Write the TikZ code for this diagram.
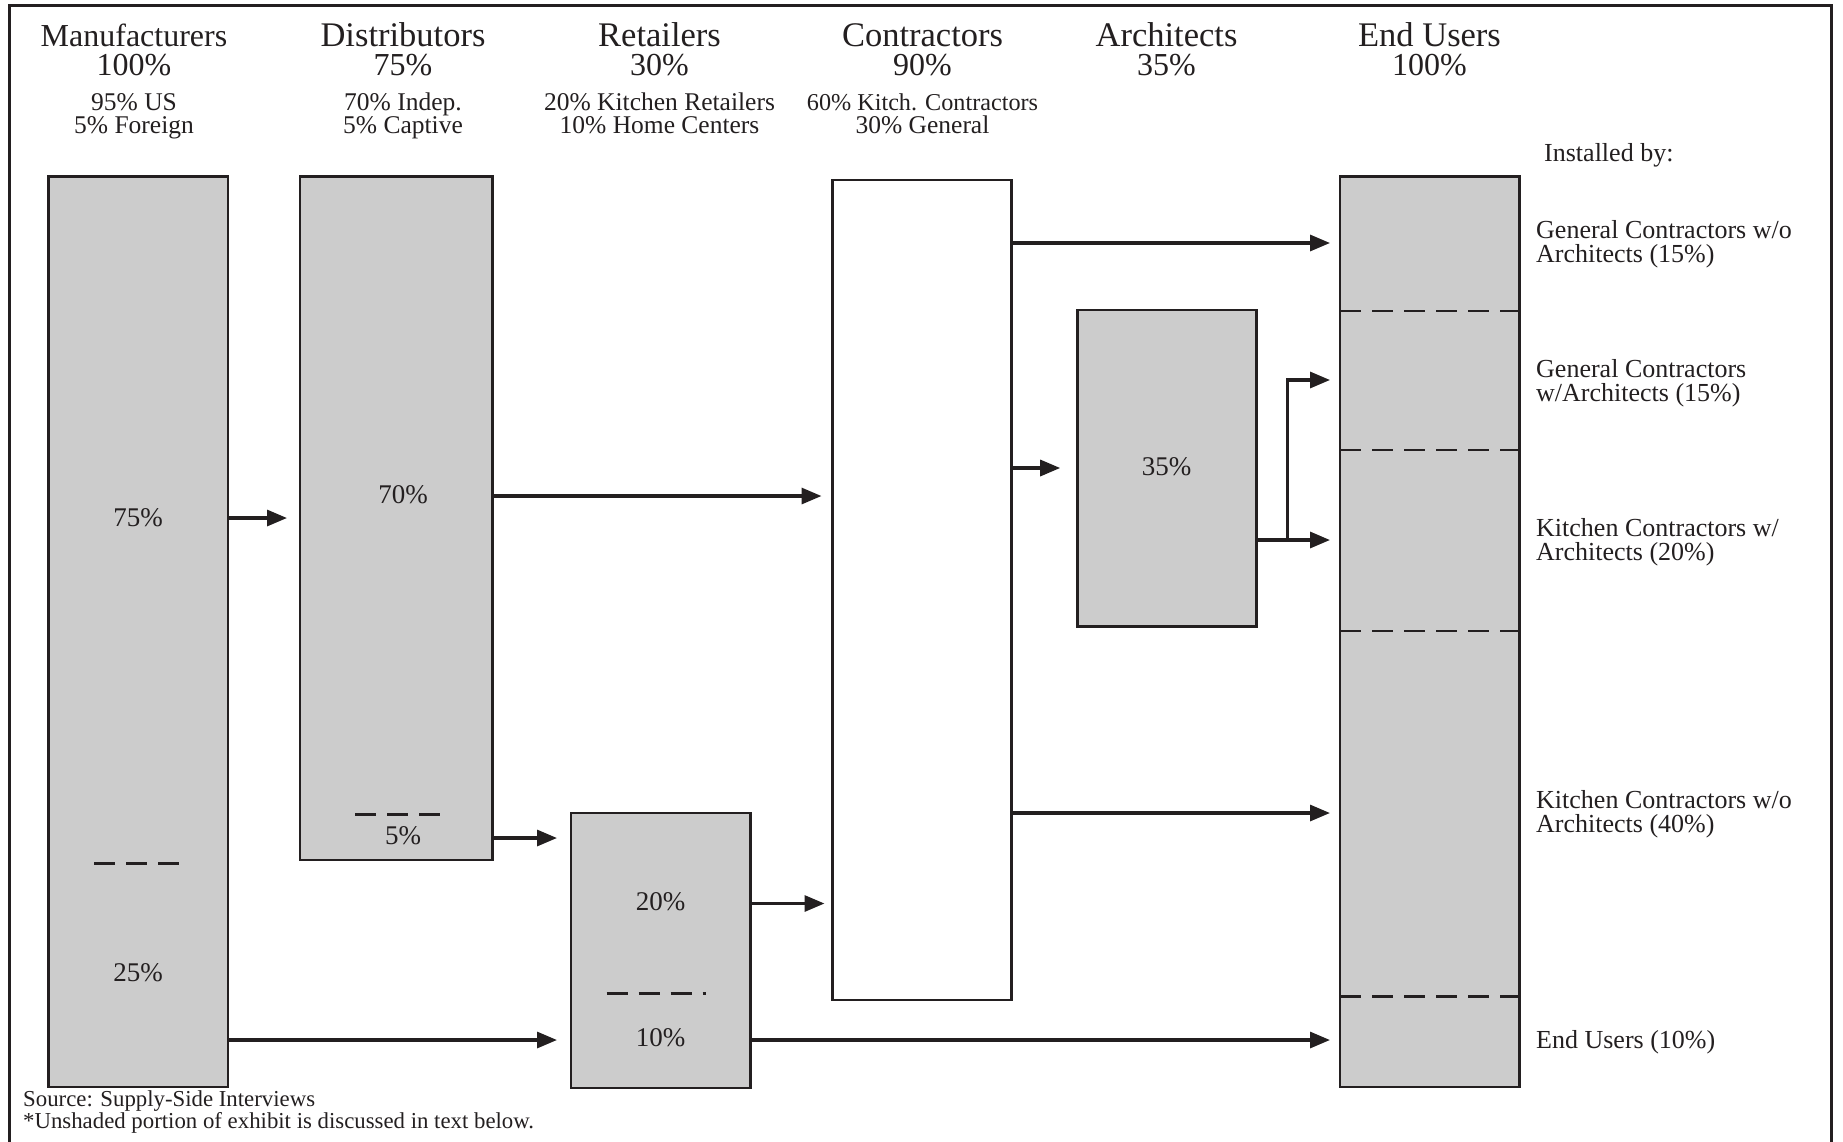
\documentclass[tikz,border=0pt]{standalone}
\usepackage{fontspec}
\setmainfont{Liberation Serif}
\usetikzlibrary{arrows.meta}
\definecolor{ink}{HTML}{231F20}
\definecolor{shade}{HTML}{CCCCCC}
\newcommand{\pcfont}{\fontsize{32}{28.3}\selectfont}
\begin{document}
\begin{tikzpicture}[x=1pt,y=-1pt,
  box/.style={draw=ink, line width=2.5pt, fill=shade, anchor=north west, inner sep=0pt, outer sep=0pt},
  openbox/.style={box, fill=white},
  arr/.style={draw=ink, line width=3.2pt, -{Triangle[length=20pt,width=16pt]}},
  divider/.style={draw=ink, line width=2.6pt, dash pattern=on 21pt off 11pt},
  head/.style={font=\fontsize{34.5}{28.3}\selectfont, text=ink, anchor=base, inner sep=0pt, align=center},
  sub/.style={font=\fontsize{25.5}{23.3}\selectfont, text=ink, anchor=base, inner sep=0pt, align=center},
  pct/.style={font=\fontsize{27}{27}\selectfont, text=ink, anchor=base, inner sep=0pt},
  side/.style={font=\fontsize{26}{24}\selectfont, text=ink, anchor=base west, inner sep=0pt, align=left},
  foot/.style={font=\fontsize{22.8}{20}\selectfont, text=ink, anchor=base west, inner sep=0pt, align=left}]
\useasboundingbox (0,0) rectangle (1843,1141);
\fill[white] (0,0) rectangle (1843,1141);
\draw[ink, line width=3pt] (9,1160) -- (9,5.5) -- (1831,5.5) -- (1831,1160);

% column boxes
\node[box, minimum width=179.5pt, minimum height=910.5pt] (manu) at (48.5,176.5) {};
\node[box, minimum width=192.5pt, minimum height=683.5pt] (dist) at (300,176.5) {};
\node[box, minimum width=179.5pt, minimum height=275pt] (ret) at (571,813) {};
\node[openbox, minimum width=179.2pt, minimum height=820pt] (con) at (832.5,180) {};
\node[box, minimum width=179pt, minimum height=316.5pt] (arch) at (1077.7,310) {};
\node[box, minimum width=179.5pt, minimum height=910.5pt] (endu) at (1340,176.5) {};

% dividers
\draw[divider] (94,863.3) -- (179,863.3);
\draw[divider] (355,814.5) -- (440,814.5);
\draw[divider] (606.7,993.7) -- (706,993.7);
\foreach \yy in {311,450,631,996.7}
  \draw[divider] (endu.west |- 0,\yy) -- (endu.east |- 0,\yy);

% headers (anchored at last-line baseline)
\node[head, font=\pcfont] (hManu) at (134,75) {Manufacturers\\100\%};
\node[sub] (hManuS) at (134,133.3) {95\% US\\5\% Foreign};

\node[head] (hDist) at (403,75) {Distributors\\{\pcfont 75\%}};
\node[sub] (hDistS) at (403,133.3) {70\% Indep.\\5\% Captive};

\node[head] (hRet) at (659.5,75) {Retailers\\{\pcfont 30\%}};
\node[sub] (hRetS) at (659.5,133.3) {20\% Kitchen Retailers\\10\% Home Centers};

\node[head] (hCon) at (922.5,75) {Contractors\\{\pcfont 90\%}};
\node[sub] (hConS) at (922.5,133.3) {{\fontsize{24.2}{23.3}\selectfont 60\% Kitch. Contractors}\\30\% General};

\node[head] (hArch) at (1166.5,75) {Architects\\{\pcfont 35\%}};
\node[head] (hEnd) at (1429.5,75) {End Users\\{\pcfont 100\%}};

% inner percentages
\node[pct] (p75) at (138,526) {75\%};
\node[pct] (p25) at (138,981.7) {25\%};
\node[pct] (p70) at (403,503) {70\%};
\node[pct] (p5) at (403,844) {5\%};
\node[pct] (p20) at (660.7,910) {20\%};
\node[pct] (p10) at (660.7,1046.7) {10\%};
\node[pct] (p35) at (1166.7,475) {35\%};

% right-hand labels
\node[side] (inst) at (1544,161) {Installed by:};
\node[side] (l1) at (1536,262) {General Contractors w/o\\Architects (15\%)};
\node[side] (l2) at (1536,401) {General Contractors\\w/Architects (15\%)};
\node[side] (l3) at (1536,560) {Kitchen Contractors w/\\Architects (20\%)};
\node[side] (l4) at (1536,832) {Kitchen Contractors w/o\\Architects (40\%)};
\node[side] (l5) at (1536,1048) {End Users (10\%)};

% footer
\node[foot] (src) at (23,1128) {Source: Supply-Side Interviews\\*Unshaded portion of exhibit is discussed in text below.};

% connectors
\draw[arr, shorten >=13pt] (manu.east |- 0,518) -- (dist.west |- 0,518);
\draw[arr, shorten >=11pt] (dist.east |- 0,496) -- (con.west |- 0,496);
\draw[arr, shorten >=14pt] (dist.east |- 0,838) -- (ret.west |- 0,838);
\draw[arr, shorten >=14pt] (manu.east |- 0,1040) -- (ret.west |- 0,1040);
\draw[arr, shorten >=8pt] (ret.east |- 0,903.5) -- (con.west |- 0,903.5);
\draw[arr, shorten >=10pt] (ret.east |- 0,1040) -- (endu.west |- 0,1040);
\draw[arr, shorten >=10pt] (con.east |- 0,243) -- (endu.west |- 0,243);
\draw[arr, shorten >=17.5pt] (con.east |- 0,468) -- (arch.west |- 0,468);
\draw[arr, shorten >=10pt] (con.east |- 0,813) -- (endu.west |- 0,813);
\draw[arr, shorten >=10pt] (arch.east |- 0,540) -- (endu.west |- 0,540);
\coordinate (split) at (1287.3,540);
\draw[arr, shorten >=10pt] (split) -- (split |- 0,380) -- (endu.west |- 0,380);
\end{tikzpicture}
\end{document}
